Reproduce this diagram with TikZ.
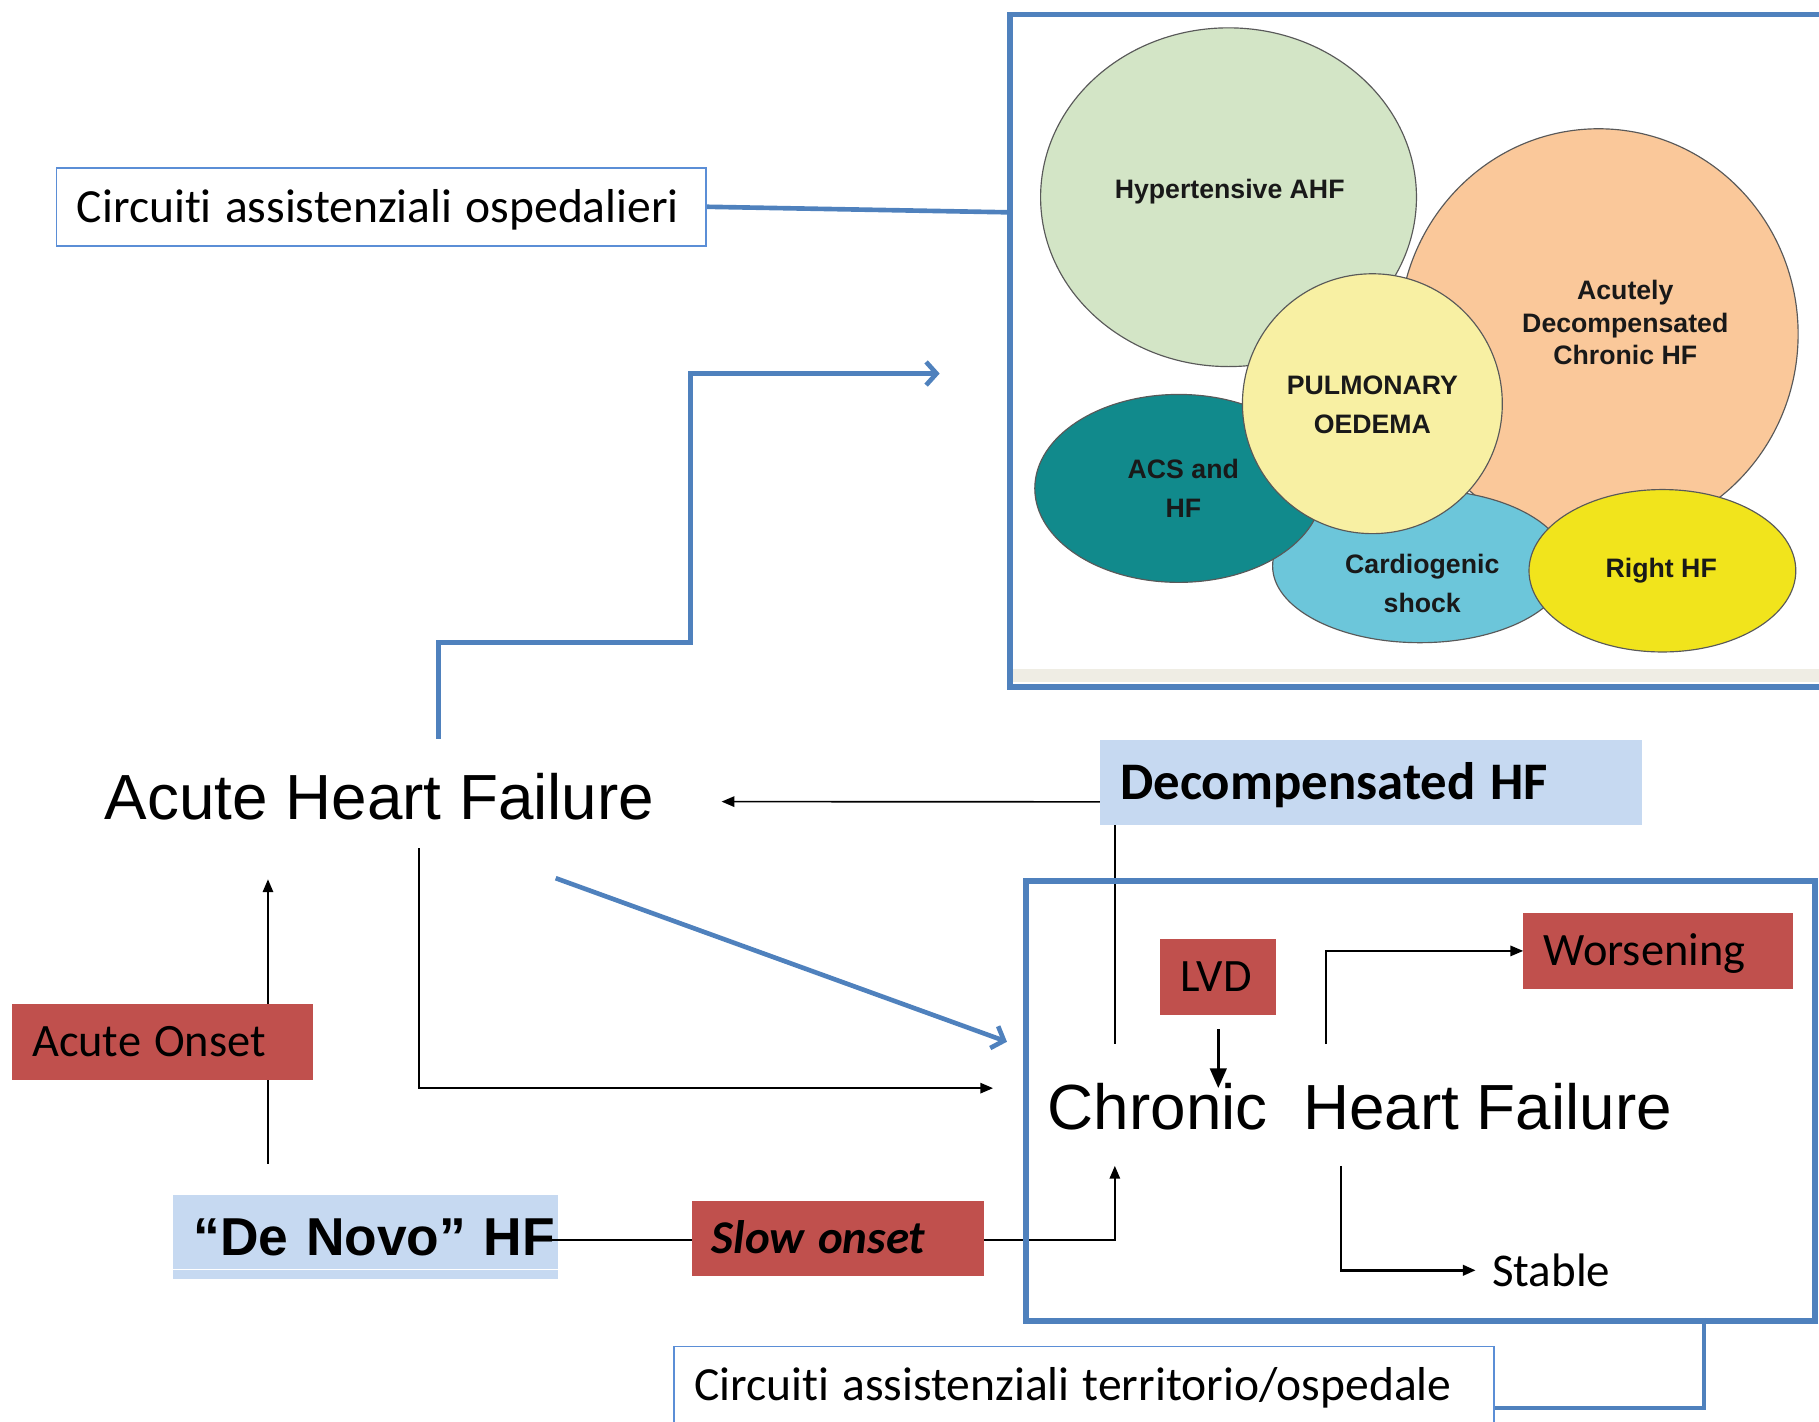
\documentclass[tikz,border=0pt]{standalone}
\usepackage{fontspec}
\setmainfont{Carlito}[Ligatures={NoCommon}]
\newfontfamily\arialf{Liberation Sans}
\usetikzlibrary{arrows.meta,calc}
\newcommand{\tightsp}{\spaceskip=0.28em\relax}
\definecolor{frameblue}{HTML}{4F81BD}
\definecolor{thinblue}{HTML}{5B8ED6}
\definecolor{lblue}{HTML}{C6D9F1}
\definecolor{lred}{HTML}{C0504D}
\definecolor{egreen}{HTML}{D3E5C6}
\definecolor{epeach}{HTML}{FAC89A}
\definecolor{eyellow}{HTML}{F8F0A3}
\definecolor{eteal}{HTML}{118A8C}
\definecolor{ecyan}{HTML}{6CC6DA}
\definecolor{eright}{HTML}{F1E41C}
\definecolor{strip}{HTML}{EFEDE4}
\begin{document}
\begin{tikzpicture}[x=1pt,y=-1pt,
  lbl/.style={rectangle, inner xsep=17.5pt, inner ysep=0pt, align=left, anchor=north west,
    text depth=0pt},
  fc40/.style={font=\fontsize{40}{44}\selectfont, text height=25.8pt},
  fc41/.style={font=\fontsize{41}{45}\selectfont, text height=26.4pt},
  fcb45/.style={font=\bfseries\fontsize{45.5}{50}\selectfont, text height=29.3pt},
  fcbi40/.style={font=\bfseries\itshape\fontsize{40.5}{44}\selectfont, text height=26.1pt},
  fab45/.style={font=\arialf\bfseries\fontsize{46}{50}\selectfont, text height=32.9pt},
  redbox/.style={lbl, fill=lred},
  bluebox/.style={lbl, fill=lblue},
  outbox/.style={lbl, draw=thinblue, line width=1.5pt, fill=white},
  conn/.style={line width=1.4pt, black},
  arr/.style={conn, -{Triangle[length=11pt,width=9pt]}},
  bline/.style={frameblue, line width=4pt},
  barr/.style={bline, -{Straight Barb[length=9pt,width=20pt]}},
  framebox/.style={draw=frameblue, line width=5pt, rectangle, anchor=north west, inner sep=0pt},
  big/.style={font=\arialf\fontsize{55}{60}\selectfont, inner sep=0pt, anchor=base west},
  etxt/.style={font=\arialf\bfseries\fontsize{23}{33}\selectfont, align=center, text=black!90},
  ell/.style={draw=black!65, line width=1pt}
]
\useasboundingbox (0,0) rectangle (1568,1225);

% ---- clinical picture ----
\fill[strip] (872,577) rectangle (1600,588);
\filldraw[ell, fill=epeach] (1378,288) ellipse [x radius=172, y radius=177];
\filldraw[ell, fill=egreen] (1059,170) ellipse [x radius=162, y radius=146];
\filldraw[ell, fill=ecyan] (1224,488) ellipse [x radius=127, y radius=66];
\filldraw[ell, fill=eteal] (1016,421) ellipse [x radius=124, y radius=81];
\filldraw[ell, fill=eright] (1433,492) ellipse [x radius=115, y radius=70];
\filldraw[ell, fill=eyellow] (1183,348) ellipse [x radius=112, y radius=112];
\node[etxt] (thyp) at (1060,165) {Hypertensive AHF};
\node[etxt, font=\arialf\bfseries\fontsize{23}{28}\selectfont] (tadc) at (1401,278) {Acutely\\Decompensated\\Chronic HF};
\node[etxt] (tpul) at (1183,349) {PULMONARY\\OEDEMA};
\node[etxt] (tacs) at (1020,421) {ACS and\\HF};
\node[etxt] (tcar) at (1226,503) {Cardiogenic\\shock};
\node[etxt] (trhf) at (1432,492) {Right HF};
\node[framebox, minimum width=720pt, minimum height=580pt] (hosp) at (868,10) {};

% ---- hospital label ----
\node[outbox, fc41, text width=525pt, minimum height=67pt] (circ1) at (48,144) {\mbox{\tightsp Circuiti assistenziali ospedalieri}};
\coordinate (hospIn) at (868,183);
\draw[bline] (circ1.east) -- (hospIn);

% ---- main texts ----
\node[big] (ahf) at (90,706) {Acute Heart Failure};
\node[big] (chf) at (903,974) {Chronic\ \ Heart Failure};

% ---- free ends ----
\coordinate (ahfUp) at (378,637);
\coordinate (hospArr) at (810,322);
\coordinate (ahfDiag) at (479,757);
\coordinate (chfDiag) at (868,898);
\coordinate (ahfDown) at (361,731);
\coordinate (chfIn) at (856,938);
\coordinate (ahfIn) at (622,691);
\coordinate (chfTopL) at (961,900);
\coordinate (chfTopR) at (1143,900);
\coordinate (chfBotL) at (961,1005);
\coordinate (chfBotR) at (1156,1005);
\coordinate (ahfBelow) at (231,758);
\coordinate (dnvAbove) at (231,1003);
\coordinate (dnvRight) at (457,1069);
\coordinate (lvdTip) at (1052,938);
\coordinate (cfrOut) at (1469,1136);

% ---- blue connectors ----
\draw[barr] (ahfUp) -- ++(0,-83) -| (595,322) -- (hospArr);
\draw[barr] (ahfDiag) -- (chfDiag);

% ---- black connectors ----
\draw[arr] (ahfDown) |- (chfIn);
\draw[arr] (dnvAbove) -- (ahfBelow);
\node[redbox, fc40, text width=225pt, minimum height=66pt] (aon) at (10,865) {\mbox{\tightsp Acute Onset}};

\node[bluebox, fab45, text width=297pt, minimum height=72pt] (dnv) at (149,1030) {\mbox{“De Novo” HF}};
\draw[white, line width=1.5pt] ([yshift=8pt]dnv.south west) -- ([yshift=8pt]dnv.south east);
\draw[arr] (dnvRight) -| (chfBotL);
\node[redbox, fcbi40, text width=217pt, minimum height=65pt] (slow) at (596,1035) {\mbox{\tightsp Slow onset}};

\node[bluebox, fcb45, text width=432pt, minimum height=73pt] (dec) at (948,638) {\mbox{\tightsp Decompensated HF}};
\draw[arr] ([yshift=-16.5pt]dec.west) -- (ahfIn);
\draw[conn] (dec.south -| chfTopL) -- (chfTopL);

\node[framebox, minimum width=680pt, minimum height=379pt] (cfr) at (882,757) {};

\node[redbox, fc40, text width=65pt, minimum height=66pt] (lvd) at (1000,809) {\mbox{LVD}};
\node[redbox, fc40, text width=197pt, minimum height=65pt] (wors) at (1313,787) {\mbox{Worsening}};
\node[font=\fontsize{40.5}{44}\selectfont, inner sep=0pt, anchor=west] (stable) at (1286,1095) {Stable};

\draw[line width=3pt, -{Triangle[length=17pt,width=14pt]}] ([yshift=-12pt]lvd.south) -- (lvd.south |- lvdTip);
\draw[arr] (chfTopR) |- (wors.west);
\draw[arr, line width=2.2pt] (chfBotR) |- ([xshift=-14pt]stable.west);

% ---- territory label ----
\node[outbox, fc41, text width=672pt, minimum height=66pt] (circ2) at (580,1160) {\mbox{\tightsp Circuiti assistenziali territorio/ospedale}};
\draw[bline] (cfrOut) |- ([yshift=-20pt]circ2.east);
\end{tikzpicture}
\end{document}
